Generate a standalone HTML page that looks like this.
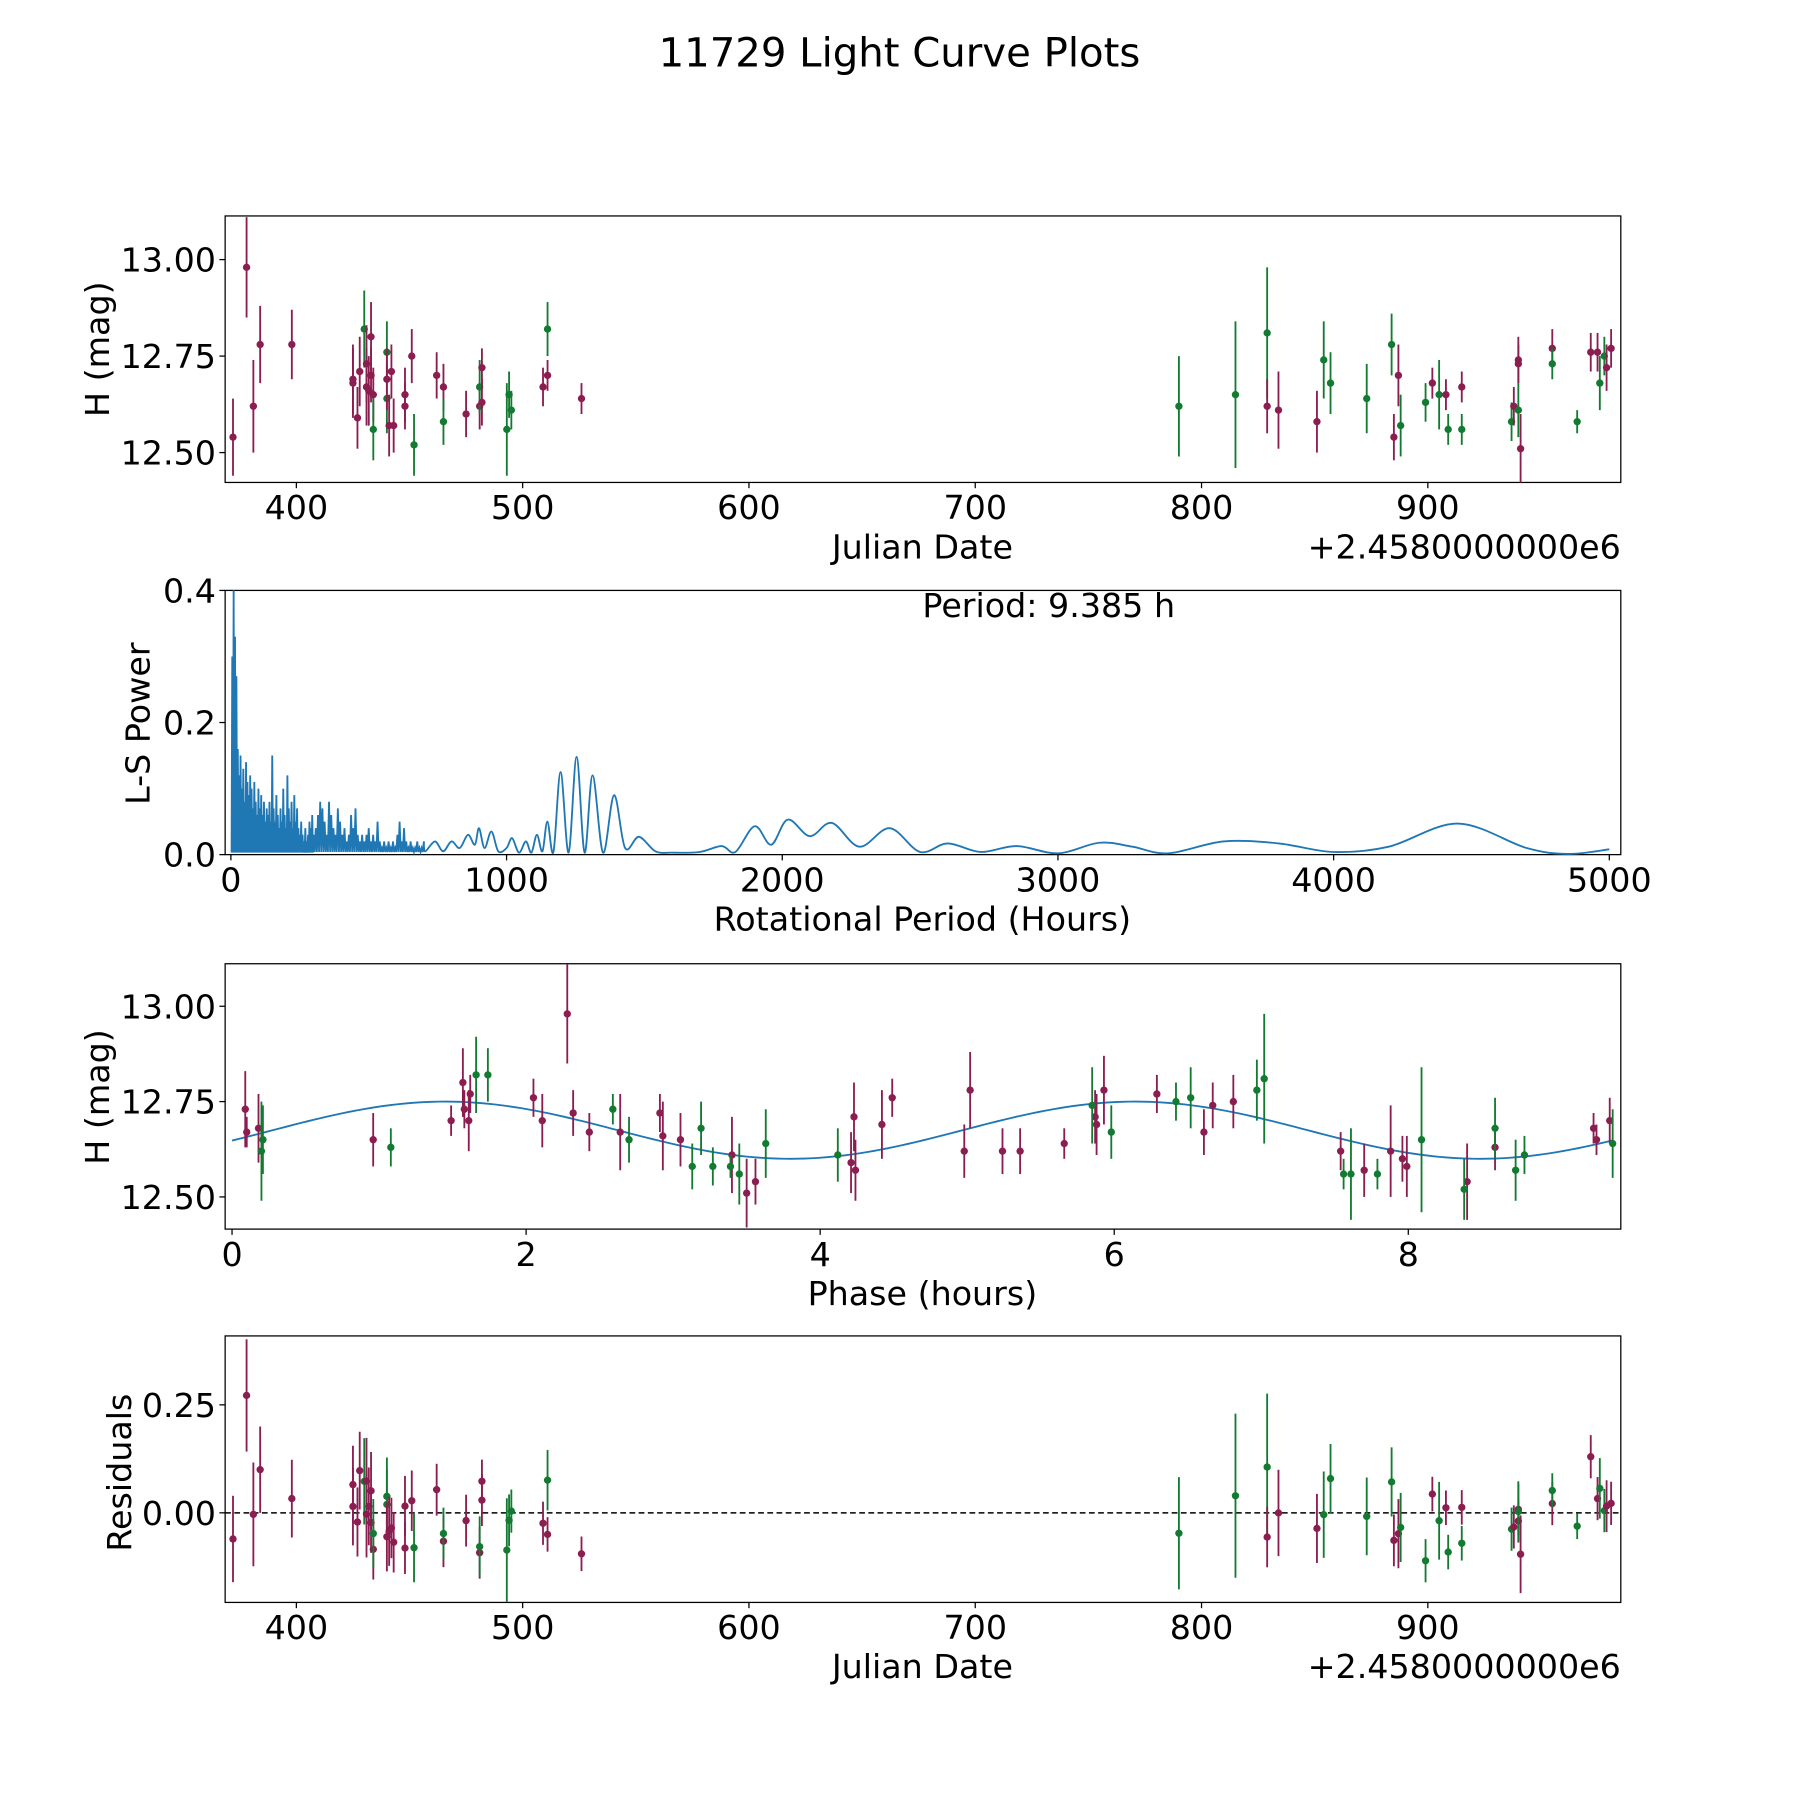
<!DOCTYPE html>
<html><head><meta charset="utf-8"><style>
html,body{margin:0;padding:0;background:#fff}
svg{display:block}
text{font-family:"DejaVu Sans","Liberation Sans",sans-serif;fill:#000}
</style></head><body>
<svg id="fig" width="1800" height="1800" viewBox="0 0 1567 1567" xmlns="http://www.w3.org/2000/svg">
<text x="783" y="58" font-size="35" text-anchor="middle">11729 Light Curve Plots</text>
<g id="root"></g>
</svg>
<script>
// ---- data ----
const jd = [372,378,381,384,398,425,425,427,428,430,431,431,432,433,433,434,434,440,440,440,441,442,443,448,448,451,452,462,465,465,475,481,481,482,482,493,494,495,509,511,511,526,790,815,829,829,834,851,854,857,873,884,885,887,888,899,902,905,908,909,915,915,937,938,940,940,940,941,955,955,966,972,975,976,978,979,981];
const mag = [12.54,12.98,12.62,12.78,12.78,12.69,12.68,12.59,12.71,12.82,12.73,12.67,12.66,12.80,12.70,12.65,12.56,12.64,12.76,12.69,12.57,12.71,12.57,12.65,12.62,12.75,12.52,12.70,12.67,12.58,12.60,12.62,12.67,12.72,12.63,12.56,12.65,12.61,12.67,12.70,12.82,12.64,12.62,12.65,12.81,12.62,12.61,12.58,12.74,12.68,12.64,12.78,12.54,12.70,12.57,12.63,12.68,12.65,12.65,12.56,12.67,12.56,12.58,12.62,12.74,12.73,12.61,12.51,12.77,12.73,12.58,12.76,12.76,12.68,12.75,12.72,12.77];
const magErr = [0.10,0.13,0.12,0.10,0.09,0.09,0.09,0.08,0.09,0.10,0.10,0.10,0.09,0.09,0.07,0.07,0.08,0.09,0.08,0.08,0.08,0.07,0.07,0.07,0.06,0.07,0.08,0.06,0.06,0.06,0.06,0.06,0.07,0.05,0.06,0.12,0.06,0.05,0.05,0.04,0.07,0.04,0.13,0.19,0.17,0.07,0.10,0.08,0.10,0.08,0.09,0.08,0.06,0.08,0.08,0.05,0.04,0.09,0.04,0.04,0.04,0.04,0.05,0.05,0.06,0.05,0.07,0.09,0.05,0.04,0.03,0.05,0.05,0.07,0.05,0.06,0.05];
const band = ['p','p','p','p','p','p','p','p','p','g','p','p','p','p','p','p','g','g','g','p','p','p','p','p','p','p','g','p','p','g','p','p','g','p','p','g','g','g','p','p','g','p','g','g','g','p','p','p','g','g','g','g','p','p','g','g','p','g','p','g','p','g','g','p','p','p','g','p','p','g','g','p','p','g','g','p','p'];
const phase = [8.40,2.28,7.88,5.02,5.93,4.42,0.18,4.21,4.23,1.66,0.09,2.64,2.93,1.57,2.11,0.96,3.45,3.63,6.52,5.88,4.24,5.87,7.70,3.05,5.24,6.81,8.38,9.37,6.61,3.13,7.96,5.36,5.98,2.91,8.59,7.61,2.70,8.79,2.43,1.49,1.74,5.66,0.20,8.09,7.02,4.98,3.40,7.99,5.85,8.59,9.39,6.97,3.56,1.61,8.73,1.08,9.26,0.21,9.28,7.56,0.10,7.79,3.27,7.54,6.67,1.58,4.12,3.50,6.29,2.59,3.39,4.49,2.05,3.19,6.42,2.32,1.62];
const period = 9.385;
const modelMean = 12.675, modelAmp = 0.075, modelPeakPhase = 1.45;
// periodogram
const spikeVals1 = [0.30,0.40,0.33,0.27,0.16,0.12,0.15,0.10,0.13,0.08,0.14,0.11,0.09,0.12,0.10,0.07,0.11,0.08,0.06,0.10,0.07,0.09,0.06,0.08,0.05,0.07,0.06,0.08,0.05,0.15,0.07,0.05,0.09,0.06,0.04,0.07,0.05,0.10,0.06,0.04,0.12,0.07,0.05,0.08,0.04,0.09,0.05,0.07,0.04,0.03,0.05,0.03,0.02,0.04,0.02,0.03,0.05,0.04,0.06,0.03];
const spikeVals2 = [0.04,0.06,0.08,0.07,0.05,0.03,0.08,0.06,0.04,0.03,0.07,0.05,0.03,0.04,0.02,0.03,0.06,0.04,0.07,0.03,0.02,0.03,0.02,0.03,0.04,0.02,0.03,0.02,0.05,0.02,0.01,0.02,0.01,0.02,0.01,0.02,0.01,0.03,0.05,0.02,0.04,0.02,0.01,0.02,0.01,0.01,0.02,0.01,0.01,0.02];
const smoothPeriods = [705,740,770,800,830,860,885,900,920,945,970,1000,1020,1045,1070,1090,1110,1130,1148,1170,1196,1225,1254,1283,1312,1350,1390,1430,1480,1540,1600,1700,1780,1830,1900,1960,2020,2100,2180,2280,2390,2500,2600,2720,2850,3000,3150,3270,3400,3600,3800,4000,4200,4450,4700,4850,5000];
const smoothPower = [0.005,0.02,0.005,0.02,0.01,0.03,0.015,0.04,0.01,0.035,0.005,0.01,0.025,0.003,0.02,0.003,0.03,0.005,0.05,0.004,0.125,0.003,0.148,0.003,0.12,0.003,0.09,0.01,0.027,0.005,0.003,0.004,0.013,0.004,0.043,0.015,0.053,0.028,0.048,0.012,0.04,0.004,0.017,0.004,0.013,0.002,0.018,0.012,0.002,0.02,0.017,0.004,0.012,0.047,0.01,0.001,0.008];
const jdTicks = [400,500,600,700,800,900];
const magTicks = [12.50,12.75,13.00];
const perTicks = [0,1000,2000,3000,4000,5000];
const powTicks = [0.0,0.2,0.4];
const phaseTicks = [0,2,4,6,8];
const resTicks = [0.00,0.25];

// ---- helpers ----
const NS='http://www.w3.org/2000/svg';
const root=document.getElementById('root');
function el(tag,attrs,parent,txt){const e=document.createElementNS(NS,tag);for(const k in attrs)e.setAttribute(k,attrs[k]);if(txt!==undefined)e.textContent=txt;(parent||root).appendChild(e);return e;}
const COL={p:'#8c1d50',g:'#137a31'};
const L=196,R=1411;
const TS=29, LS=29;
function lin(d0,d1,r0,r1){return v=>r0+(v-d0)*(r1-r0)/(d1-d0);}
function model(ph){return modelMean+modelAmp*Math.cos(2*Math.PI*2*(ph-modelPeakPhase)/period);}

function frame(name,T,B){
  const g=el('g',{});
  
  
  const r=el('rect',{x:L,y:T,width:R-L,height:B-T,fill:'none',stroke:'#000','stroke-width':1.1},g);
  
  
  return g;
}
function xticks(g,ticks,sx,B,fmt){ticks.forEach(t=>{const x=sx(t);
  const l=el('line',{x1:x,x2:x,y1:B,y2:B+5,stroke:'#000','stroke-width':1.1},g);
  
  
  const tx=el('text',{x:x,y:B+32,'font-size':TS,'text-anchor':'middle'},g,fmt(t));
  
  });}
function yticks(g,ticks,sy,fmt){ticks.forEach(t=>{const y=sy(t);
  const l=el('line',{x1:L-5,x2:L,y1:y,y2:y,stroke:'#000','stroke-width':1.1},g);
  
  
  const tx=el('text',{x:L-8,y:y+10.5,'font-size':TS,'text-anchor':'end'},g,fmt(t));
  
  });}
function label(g,name,txt,x,y,rot,anchor){
  const t=el('text',{x:x,y:y,'font-size':LS,'text-anchor':anchor||'middle',transform:rot?`rotate(-90 ${x} ${y})`:''},g,txt);
  
  }
function errpt(g,x,y,yl,yh,c,T,B){
  const clip=v=>Math.max(T,Math.min(B,v));
  const l=el('line',{x1:x,x2:x,y1:clip(yl),y2:clip(yh),stroke:c,'stroke-width':1.6},g);
  
  
  const d=el('circle',{cx:x,cy:y,r:3.2,fill:c},g);
  
  }
const f2=v=>v.toFixed(2), f1=v=>v.toFixed(1), f0=v=>String(v);

// ---- panel 1 ----
(function(){const T=188,B=420;const g=frame('light-curve-panel',T,B);
  const sx=lin(400,500,258,455), sy=lin(12.75,13.0,310,226);
  xticks(g,jdTicks,sx,B,f0); yticks(g,magTicks,sy,f2);
  jd.forEach((j,i)=>errpt(g,sx(j),sy(mag[i]),sy(mag[i]-magErr[i]),sy(mag[i]+magErr[i]),COL[band[i]],T,B));
  label(g,'x-axis-title','Julian Date',803,486);
  label(g,'x-offset-text','+2.4580000000e6',1411,486,false,'end');
  label(g,'y-axis-title','H (mag)',95,304,true);
})();

// ---- panel 2 ----
(function(){const T=514,B=744;const g=frame('periodogram-panel',T,B);
  const sx=lin(0,1000,201,441), sy=lin(0,0.2,744,629);
  xticks(g,perTicks,sx,B,f0); yticks(g,powTicks,sy,f1);
  const pts=[];
  spikeVals1.forEach((v,i)=>{const p=5+5*i;pts.push([p-2.5,0.003],[p,v]);});
  spikeVals2.forEach((v,i)=>{const p=308+8*i;pts.push([p-4,0.004],[p,v]);});
  let d=pts.map((p,i)=>(i?'L':'M')+sx(p[0]).toFixed(2)+' '+Math.max(T,sy(p[1])).toFixed(2)).join(' ');
  const sp=smoothPeriods.map((p,i)=>[sx(p),sy(smoothPower[i])]);
  const all=[[sx(pts[pts.length-1][0]),sy(pts[pts.length-1][1])]].concat(sp);
  for(let i=0;i<all.length-1;i++){const p0=all[Math.max(0,i-1)],p1=all[i],p2=all[i+1],p3=all[Math.min(all.length-1,i+2)];
    const c1=[p1[0]+(p2[0]-p0[0])/6,p1[1]+(p2[1]-p0[1])/6],c2=[p2[0]-(p3[0]-p1[0])/6,p2[1]-(p3[1]-p1[1])/6];
    d+=` C${c1[0].toFixed(2)} ${c1[1].toFixed(2)} ${c2[0].toFixed(2)} ${c2[1].toFixed(2)} ${p2[0].toFixed(2)} ${p2[1].toFixed(2)}`;}
  const path=el('path',{d:d,fill:'none',stroke:'#1f77b4','stroke-width':1.6},g);
  
  
  label(g,'period-annotation','Period: 9.385 h',913,537);
  label(g,'x-axis-title','Rotational Period (Hours)',803,810);
  label(g,'y-axis-title','L-S Power',130,630,true);
})();

// ---- panel 3 ----
(function(){const T=839,B=1070;const g=frame('phase-panel',T,B);
  const sx=lin(0,2,202,458), sy=lin(12.75,13.0,959,876);
  xticks(g,phaseTicks,sx,B,f0); yticks(g,magTicks,sy,f2);
  let d='';for(let k=0;k<=200;k++){const ph=period*k/200;d+=(k?'L':'M')+sx(ph).toFixed(2)+' '+sy(model(ph)).toFixed(2);}
  const c=el('path',{d:d,fill:'none',stroke:'#1f77b4','stroke-width':1.6},g);
  
  
  jd.forEach((j,i)=>{const ph=phase[i];errpt(g,sx(ph),sy(mag[i]),sy(mag[i]-magErr[i]),sy(mag[i]+magErr[i]),COL[band[i]],T,B);});
  label(g,'x-axis-title','Phase (hours)',803,1136);
  label(g,'y-axis-title','H (mag)',95,955,true);
})();

// ---- panel 4 ----
(function(){const T=1163,B=1395;const g=frame('residuals-panel',T,B);
  const sx=lin(400,500,258,455), sy=lin(0,0.25,1317,1223);
  xticks(g,jdTicks,sx,B,f0); yticks(g,resTicks,sy,f2);
  const z=el('line',{x1:L,x2:R,y1:sy(0),y2:sy(0),stroke:'#000','stroke-width':1.3,'stroke-dasharray':'5,3'},g);
  
  
  jd.forEach((j,i)=>{const r=mag[i]-model(phase[i]);errpt(g,sx(j),sy(r),sy(r-magErr[i]),sy(r+magErr[i]),COL[band[i]],T,B);});
  label(g,'x-axis-title','Julian Date',803,1461);
  label(g,'x-offset-text','+2.4580000000e6',1411,1461,false,'end');
  label(g,'y-axis-title','Residuals',114,1282,true);
})();
</script>
</body></html>
